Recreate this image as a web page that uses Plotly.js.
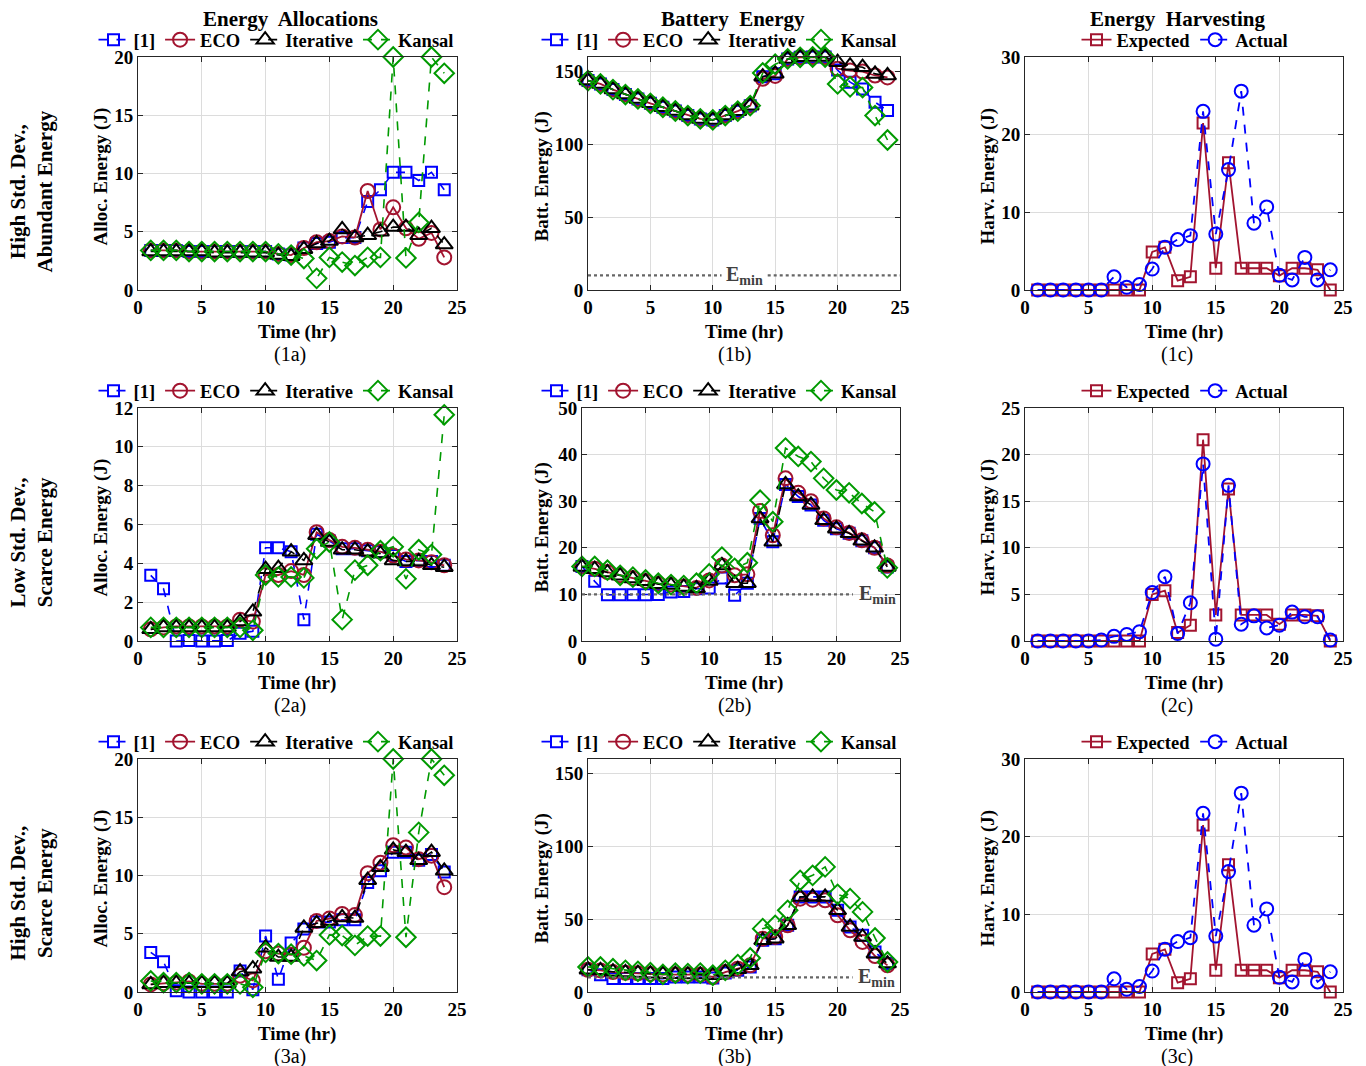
<!DOCTYPE html>
<html><head><meta charset="utf-8">
<script src="https://cdn.plot.ly/plotly-3.0.1.min.js"></script>
<style>body{margin:0;background:#fff}#chart{width:1366px;height:1066px}</style>
</head><body><div id="chart"></div><script>
// ---------------- data ----------------
const hours1 = [1,2,3,4,5,6,7,8,9,10,11,12,13,14,15,16,17,18,19,20,21,22,23,24];
const hours0 = [0,1,2,3,4,5,6,7,8,9,10,11,12,13,14,15,16,17,18,19,20,21,22,23,24];
const seriesNames = ['[1]','ECO','Iterative','Kansal'];
const harvestNames = ['Expected','Actual'];
const columnTitles = ['Energy  Allocations','Battery  Energy','Energy  Harvesting'];
const rowLabels = ['High Std. Dev.,<br>Abundant Energy','Low Std. Dev.,<br>Scarce Energy','High Std. Dev.,<br>Scarce Energy'];
const panelLabels = [['(1a)','(1b)','(1c)'],['(2a)','(2b)','(2c)'],['(3a)','(3b)','(3c)']];
const yTitles = ['Alloc. Energy (J)','Batt. Energy (J)','Harv. Energy (J)'];
const xTitle = 'Time (hr)';
const EMIN = 10;

// Row 1: high std dev, abundant energy
const a1_ref1   = [3.4,3.4,3.4,3.3,3.3,3.3,3.3,3.3,3.3,3.3,3.1,3.0,3.6,4.0,4.1,4.5,4.5,7.6,8.6,10.1,10.1,9.4,10.1,8.6];
const a1_eco    = [3.4,3.4,3.4,3.3,3.3,3.3,3.3,3.3,3.3,3.3,3.1,3.0,3.6,4.1,4.2,4.6,4.5,8.5,5.2,7.1,5.3,4.4,4.9,2.8];
const a1_iter   = [3.3,3.3,3.3,3.3,3.3,3.2,3.2,3.2,3.2,3.2,3.0,2.9,3.5,4.0,4.2,5.2,4.5,4.7,5.0,5.4,5.4,4.7,5.3,3.9];
const a1_kansal = [3.4,3.4,3.4,3.3,3.3,3.3,3.3,3.3,3.3,3.3,3.1,3.0,2.7,1.0,2.8,2.4,2.1,2.8,2.8,20,2.75,5.8,20,18.6];

const b1_ref1   = [143.8,141.5,137.6,134.2,131.2,128.2,125.5,122.9,119.8,117.5,116.8,119.8,122.8,126.6,146.5,148.5,158.7,159.8,160,160,151,142.7,138,129,123.2];
const b1_eco    = [143.8,141.5,137.6,134.2,131.2,128.2,125.5,122.9,119.8,117.5,116.8,119.8,122.8,126.6,145,147,158.7,159.8,160,160,152,150.7,150,147.3,146];
const b1_iter   = [143.8,141.5,137.6,134.2,131.2,128.2,125.5,122.9,119.8,117.5,116.8,119.8,122.8,126.6,146.5,148.5,158.7,159.8,160,160,156.4,154,153,148.4,147.3];
const b1_kansal = [143.8,141.5,137.6,134.2,131.2,128.2,125.5,122.9,119.8,117.5,116.8,119.8,122.8,126.6,149,155,158.7,159.8,160,160,141.5,139.5,139,119.8,103];

const c1_expected = [0,0,0,0,0,0,0,0,0,4.9,5.5,1.2,1.7,21.5,2.8,16.4,2.8,2.8,2.8,1.85,2.8,2.8,2.6,0];
const c1_actual   = [0,0,0,0,0,0,1.7,0.35,0.7,2.7,5.5,6.5,7.0,23.0,7.2,15.5,25.6,8.6,10.7,1.9,1.3,4.2,1.3,2.6];

// Row 2: low std dev, scarce energy
const a2_ref1   = [3.38,2.69,0.0,0.02,0.0,0.0,0.02,0.4,0.5,4.8,4.8,4.6,1.1,5.5,5.15,4.75,4.75,4.65,4.6,4.4,4.1,4.15,4.1,3.9];
const a2_eco    = [0.6,0.7,0.75,0.75,0.75,0.75,0.75,1.1,1.0,3.4,3.4,3.6,3.4,5.6,5.2,4.85,4.8,4.7,4.6,4.4,4.2,4.15,4.05,3.9];
const a2_iter   = [0.6,0.7,0.7,0.7,0.7,0.7,0.7,1.0,1.5,3.7,3.75,4.6,4.15,5.45,5.1,4.7,4.7,4.6,4.5,4.15,4.1,4.1,3.9,3.8];
const a2_kansal = [0.7,0.7,0.7,0.7,0.7,0.7,0.7,0.7,0.55,3.4,3.3,3.3,3.25,4.75,5.1,1.1,3.65,3.9,4.65,4.85,3.2,4.7,4.45,11.65];

const b2_ref1   = [16.0,12.8,9.9,9.9,9.9,9.9,10.0,10.5,10.6,11.2,11.35,13.5,9.8,12.4,26.3,21.3,33.6,31.0,29.2,25.9,24.1,23.1,21.5,20.0,15.9];
const b2_eco    = [16.0,15.5,14.8,14.1,13.5,12.9,12.3,12.1,11.7,11.4,13.0,16.2,14.1,14.3,27.9,22.7,34.9,31.8,30.0,26.3,24.4,23.2,21.6,20.0,16.2];
const b2_iter   = [15.9,15.4,14.7,14.0,13.4,12.8,12.2,12.0,11.6,11.3,12.9,16.2,12.4,12.4,26.3,21.3,33.6,31.0,29.2,25.9,24.1,23.1,21.5,20.0,15.9];
const b2_kansal = [16.0,16.0,15.2,14.1,13.7,13.1,12.4,12.1,11.9,12.4,14.4,18.0,15.6,16.8,30.2,25.6,41.4,39.6,38.5,34.9,32.4,31.8,29.5,27.7,15.7];

const c2_expected = [0,0,0,0,0,0,0,0,0,5.0,5.4,0.9,1.7,21.6,2.8,16.3,2.8,2.8,2.8,1.8,2.8,2.8,2.7,0];
const c2_actual   = [0,0,0,0,0,0.1,0.5,0.7,1.0,5.2,6.9,0.8,4.1,19.0,0.2,16.7,1.8,2.7,1.4,1.7,3.1,2.6,2.6,0.1];

// Row 3: high std dev, scarce energy
const a3_ref1   = [3.4,2.6,0.1,0,0,0,0,1.8,0.2,4.8,1.1,4.2,5.4,6.0,6.0,6.2,6.2,9.4,10.4,12.0,12.0,11.3,11.8,10.3];
const a3_eco    = [0.65,0.75,0.8,0.9,0.7,0.7,0.7,1.4,1.0,3.5,3.3,3.2,3.8,6.1,6.3,6.7,6.6,10.2,11.1,12.6,12.4,11.4,11.7,9.0];
const a3_iter   = [0.65,0.75,0.75,0.75,0.75,0.75,0.75,1.75,2.0,3.8,3.0,3.0,5.5,5.9,6.1,6.4,6.35,9.6,10.7,12.2,12.0,11.3,12.0,10.4];
const a3_kansal = [0.95,0.8,0.8,0.8,0.7,0.7,0.7,0.7,0.4,3.4,3.3,3.25,3.1,2.7,4.9,4.85,4.0,4.8,4.8,20,4.7,13.7,20,18.6];

const b3_ref1   = [15.3,11.9,9.2,9.2,9.2,9.2,9.2,10.3,10.3,10.3,9.6,13.0,14.9,17.2,35.5,36.6,45.8,65.3,65.3,65.3,56.1,44.7,38.9,27.5,19.5];
const b3_eco    = [15.3,14.8,13.7,13.2,12.8,12.4,12.0,12.0,11.9,11.9,10.3,13.7,16.0,18.3,36.6,37.8,45.8,64.1,63.4,63.0,52.7,42.4,34.4,24.7,18.3];
const b3_iter   = [15.3,14.9,13.9,13.4,13.0,12.6,12.2,12.2,12.0,12.0,11.5,13.7,15.6,18.3,35.5,36.6,45.8,65.3,65.3,65.3,56.1,44.7,37.8,26.3,19.5];
const b3_kansal = [17.2,17.2,16.0,14.9,14.2,13.3,12.1,13.0,12.6,13.0,11.5,14.9,18.8,23.4,43.5,45.8,56.1,76.7,80.1,85.9,67.1,64.1,55.0,37.1,20.6];

const c3_expected = c1_expected;
const c3_actual   = c1_actual;

// axis tick values
const xTicks = [0,5,10,15,20,25];
const yTicksAlloc20 = [0,5,10,15,20];
const yTicksAlloc12 = [0,2,4,6,8,10,12];
const yTicksBatt160 = [0,50,100,150];
const yTicksBatt50 = [0,10,20,30,40,50];
const yTicksHarv30 = [0,10,20,30];
const yTicksHarv25 = [0,5,10,15,20,25];

// ---------------- styles ----------------
const FONT = 'Liberation Serif, Times New Roman, serif';
const styles = [
  {color:'#0000FF', symbol:'square-open', size:11, dash:'dash', width:1.6},
  {color:'#A2142F', symbol:'circle-open', size:14, dash:'solid', width:1.8},
  {color:'#000000', symbol:'triangle-up-open', size:15, dash:'dash', width:1.6},
  {color:'#009A00', symbol:'diamond-open', size:15, dash:'dash', width:1.6}
];
const harvStyles = [
  {color:'#A2142F', symbol:'square-open', size:11, dash:'solid', width:1.8},
  {color:'#0000FF', symbol:'circle-open', size:13, dash:'dash', width:1.8}
];

const W = 1366, H = 1066;
// pixel boxes of the plot areas
const colPx = [[[138,457],[588,900],[1025,1343]],
               [[138,457],[582,900],[1025,1343]],
               [[138,457],[588,900],[1025,1343]]];
const rowPx = [[57,290],[408,641],[759,992]];
const legendCx = [276, 719, 1185];
const yTitleX = [100, 541, 987];
const xTitleCx = [297, 744, 1184];
const panelCx = [290, 734, 1177];
const titleCx = [290, 733, 1177];

const panels = [
  [{x:hours1, ys:[a1_ref1,a1_eco,a1_iter,a1_kansal], range:[0,20], ticks:yTicksAlloc20},
   {x:hours0, ys:[b1_ref1,b1_eco,b1_iter,b1_kansal], range:[0,160], ticks:yTicksBatt160, emin:{gap:[10.7,14.4], lx:12.5, anchor:'center'}},
   {x:hours1, ys:[c1_expected,c1_actual], range:[0,30], ticks:yTicksHarv30, harv:true}],
  [{x:hours1, ys:[a2_ref1,a2_eco,a2_iter,a2_kansal], range:[0,12], ticks:yTicksAlloc12},
   {x:hours0, ys:[b2_ref1,b2_eco,b2_iter,b2_kansal], range:[0,50], ticks:yTicksBatt50, emin:{gap:[21.3,25], lx:21.6, anchor:'left'}},
   {x:hours1, ys:[c2_expected,c2_actual], range:[0,25], ticks:yTicksHarv25, harv:true}],
  [{x:hours1, ys:[a3_ref1,a3_eco,a3_iter,a3_kansal], range:[0,20], ticks:yTicksAlloc20},
   {x:hours0, ys:[b3_ref1,b3_eco,b3_iter,b3_kansal], range:[0,160], ticks:yTicksBatt160, emin:{gap:[21.2,25], lx:21.5, anchor:'left'}},
   {x:hours1, ys:[c3_expected,c3_actual], range:[0,30], ticks:yTicksHarv30, harv:true}]
];

const traces = [];
const layout = {
  width: W, height: H, margin:{l:0,r:0,t:0,b:0},
  paper_bgcolor:'#fff', plot_bgcolor:'#fff',
  font:{family:FONT, size:17, color:'#000'},
  showlegend:true, annotations:[], shapes:[]
};

const tickFont = {family:FONT, size:19, color:'#000', weight:'bold'};
const titleFont = {family:FONT, size:19, color:'#000', weight:'bold'};

function paperAnn(px, py, text, font, extra) {
  return Object.assign({xref:'paper', yref:'paper', x:px / W, y:1 - py / H, text:text,
    showarrow:false, xanchor:'center', yanchor:'middle', font:font}, extra || {});
}

let k = 0;
for (let r = 0; r < 3; r++) {
  for (let c = 0; c < 3; c++) {
    k++;
    const p = panels[r][c];
    const xs = k === 1 ? 'x' : 'x' + k;
    const ys = k === 1 ? 'y' : 'y' + k;
    const xa = k === 1 ? 'xaxis' : 'xaxis' + k;
    const ya = k === 1 ? 'yaxis' : 'yaxis' + k;
    const lg = k === 1 ? 'legend' : 'legend' + k;
    const [x0, x1] = colPx[r][c];
    const [top, bot] = rowPx[r];
    const xd = [x0 / W, x1 / W];
    const yd = [1 - bot / H, 1 - top / H];
    const names = p.harv ? harvestNames : seriesNames;
    const st = p.harv ? harvStyles : styles;
    p.ys.forEach((yv, i) => {
      traces.push({
        type:'scatter', mode:'lines+markers', x:p.x, y:yv, name:names[i],
        xaxis:xs, yaxis:ys, legend:lg, cliponaxis:false,
        line:{color:st[i].color, dash:st[i].dash, width:st[i].width},
        marker:{symbol:st[i].symbol, size:st[i].size, color:st[i].color, line:{width:2, color:st[i].color}}
      });
    });
    const axCommon = {
      showline:true, linecolor:'#262626', linewidth:1, mirror:'allticks',
      ticks:'inside', ticklen:5, tickcolor:'#262626',
      showgrid:true, gridcolor:'#dcdcdc', gridwidth:1, zeroline:false,
      tickfont:tickFont, fixedrange:true
    };
    layout[xa] = Object.assign({}, axCommon, {
      domain:xd, anchor:ys, range:[0,25], tickmode:'array', tickvals:xTicks
    });
    layout[ya] = Object.assign({}, axCommon, {
      domain:yd, anchor:xs, range:p.range, tickmode:'array', tickvals:p.ticks
    });
    layout[lg] = {
      orientation:'h', x:legendCx[c] / W, xanchor:'center',
      y:yd[1] - 0.002, yanchor:'bottom', bgcolor:'rgba(0,0,0,0)',
      font:{family:FONT, size:18.5, color:'#000', weight:'bold'},
      itemwidth:30, tracegroupgap:0
    };
    // axis titles
    layout.annotations.push(paperAnn(xTitleCx[c], bot + 42, xTitle, titleFont));
    layout.annotations.push(paperAnn(yTitleX[c], (top + bot) / 2 + 3, yTitles[c], titleFont, {textangle:-90}));
    // panel label
    layout.annotations.push(paperAnn(panelCx[c], bot + 64, panelLabels[r][c],
      {family:FONT, size:20, color:'#000'}));
    // E_min threshold
    if (p.emin) {
      const segs = [[0, p.emin.gap[0]], [p.emin.gap[1], 25]];
      segs.forEach(s => {
        if (s[1] > s[0]) layout.shapes.push({
          type:'line', xref:xs, yref:ys, x0:s[0], x1:s[1], y0:EMIN, y1:EMIN,
          line:{color:'#666', width:2.2, dash:'dot'}
        });
      });
      layout.annotations.push({
        xref:xs, yref:ys, x:p.emin.lx, y:EMIN, xanchor:p.emin.anchor, yanchor:'middle',
        text:'E<sub>min</sub>', showarrow:false,
        font:{family:FONT, size:20, color:'#404040', weight:'bold'}
      });
    }
  }
}
// column titles
columnTitles.forEach((t, c) => {
  layout.annotations.push(paperAnn(titleCx[c], 19, t, {family:FONT, size:21, color:'#000', weight:'bold'}));
});
// row labels
rowLabels.forEach((t, r) => {
  const [top, bot] = rowPx[r];
  layout.annotations.push(paperAnn(31, (top + bot) / 2 + 18, t,
    {family:FONT, size:21, color:'#000', weight:'bold'}, {textangle:-90}));
});

Plotly.newPlot('chart', traces, layout, {displayModeBar:false, staticPlot:true});
</script></body></html>
